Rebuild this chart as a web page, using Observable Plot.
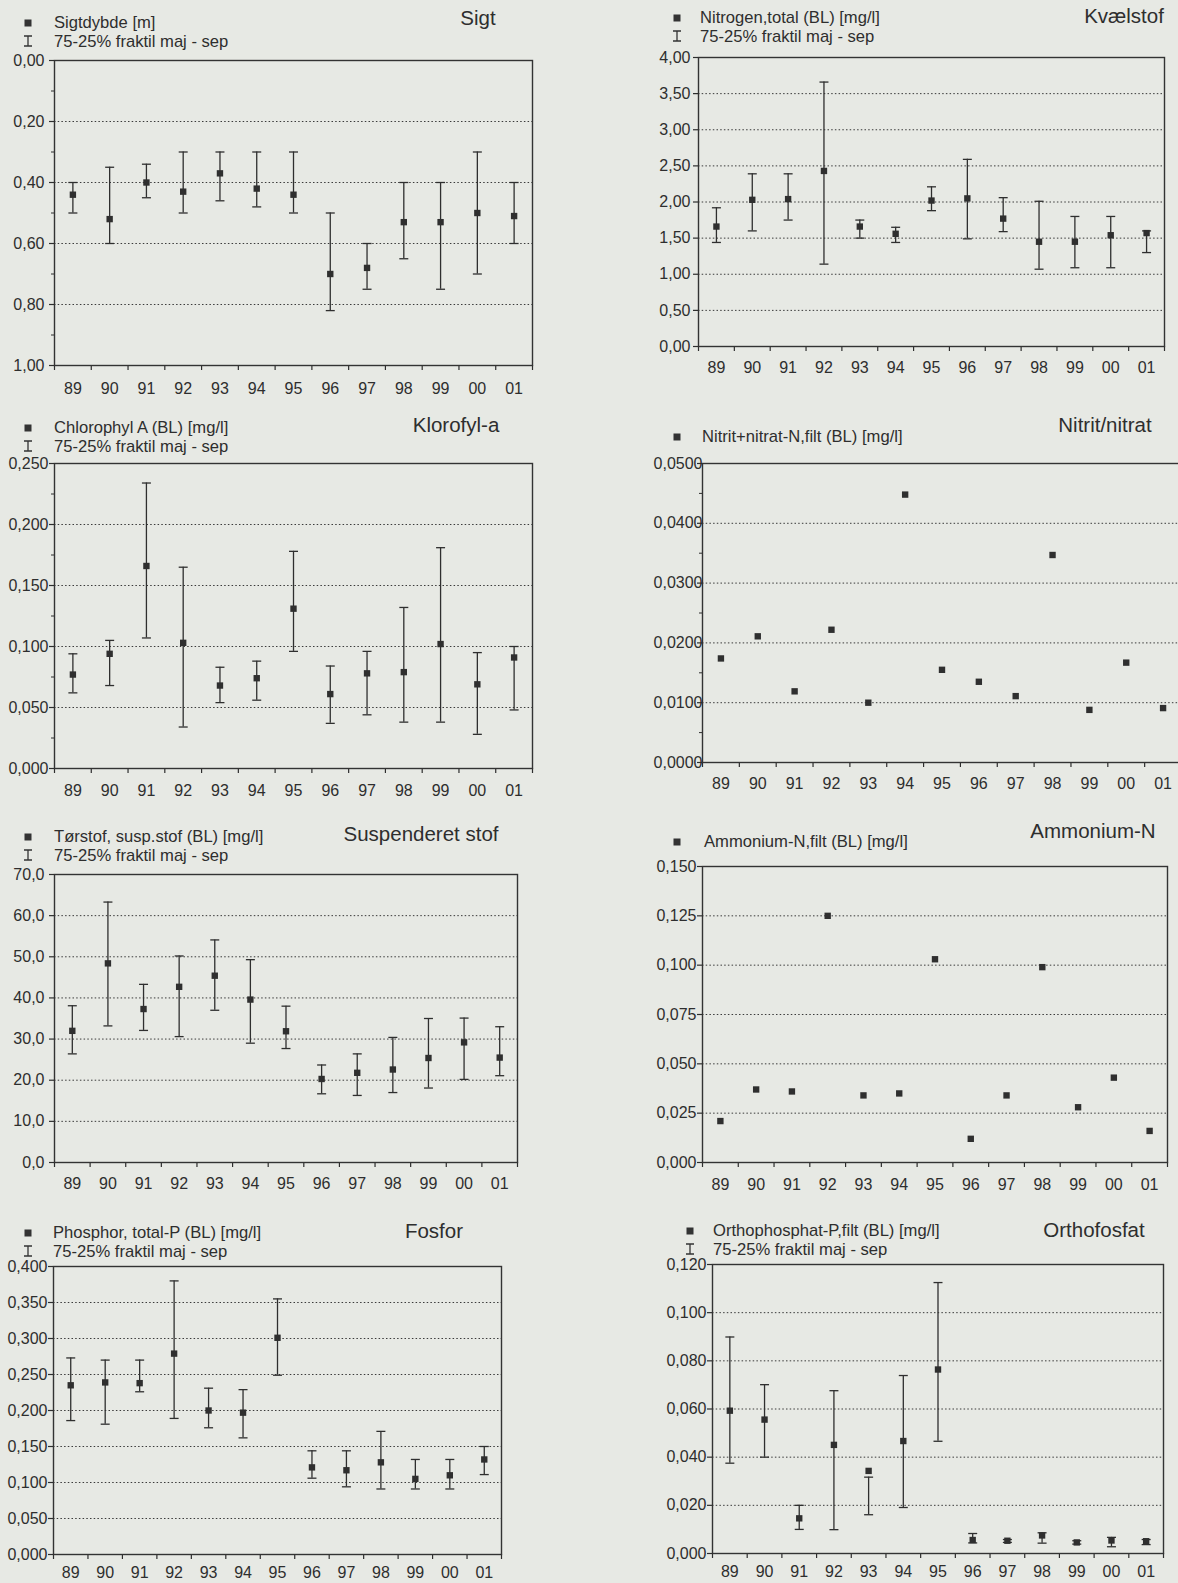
<!DOCTYPE html>
<html><head><meta charset="utf-8">
<script src="https://cdn.jsdelivr.net/npm/d3@7"></script>
<script src="https://cdn.jsdelivr.net/npm/@observablehq/plot@0.6"></script>
<style>
html,body{margin:0;padding:0;background:#e7e9e4;overflow:hidden;}
#page{position:relative;width:1178px;height:1583px;overflow:hidden;font-family:"Liberation Sans",Arial,sans-serif;color:#2e2e2e;}
.abs{position:absolute;white-space:nowrap;line-height:1;}
.title{font-size:20.5px;transform:translate(-50%,-50%);}
.leg{font-size:16.6px;transform:translateY(-50%);}
.sq{position:absolute;width:7px;height:7px;background:#333;transform:translate(-50%,-50%);}
.eb{position:absolute;transform:translate(-50%,-50%);}
</style></head><body><div id="page"></div>
<script>
// ---------- data ----------
const years = ["89","90","91","92","93","94","95","96","97","98","99","00","01"];

const sigtMean = [0.44,0.52,0.40,0.43,0.37,0.42,0.44,0.70,0.68,0.53,0.53,0.50,0.51];
const sigtLo   = [0.40,0.35,0.34,0.30,0.30,0.30,0.30,0.50,0.60,0.40,0.40,0.30,0.40];
const sigtHi   = [0.50,0.60,0.45,0.50,0.46,0.48,0.50,0.82,0.75,0.65,0.75,0.70,0.60];
const sigtTicks = [0,0.2,0.4,0.6,0.8,1.0];
const sigtMinor = [0.1,0.3,0.5,0.7,0.9];

const nMean = [1.66,2.03,2.04,2.43,1.66,1.56,2.02,2.05,1.77,1.45,1.45,1.54,1.57];
const nLo   = [1.44,1.60,1.75,1.14,1.50,1.44,1.88,1.49,1.59,1.07,1.09,1.09,1.30];
const nHi   = [1.92,2.39,2.39,3.66,1.75,1.65,2.21,2.59,2.06,2.01,1.80,1.80,1.60];
const nTicks = [0,0.5,1,1.5,2,2.5,3,3.5,4];

const chlMean = [0.077,0.094,0.166,0.103,0.068,0.074,0.131,0.061,0.078,0.079,0.102,0.069,0.091];
const chlLo   = [0.062,0.068,0.107,0.034,0.054,0.056,0.096,0.037,0.044,0.038,0.038,0.028,0.048];
const chlHi   = [0.094,0.105,0.234,0.165,0.083,0.088,0.178,0.084,0.096,0.132,0.181,0.095,0.100];
const chlTicks = [0,0.05,0.1,0.15,0.2,0.25];
const chlMinor = [0.025,0.075,0.125,0.175,0.225];

const no3Mean = [0.0174,0.0211,0.0119,0.0222,0.0100,0.0448,0.0155,0.0135,0.0111,0.0347,0.0088,0.0167,0.0091];
const no3Ticks = [0,0.01,0.02,0.03,0.04,0.05];
const no3Minor = [0.005,0.015,0.025,0.035,0.045];

const ssMean = [32.0,48.4,37.3,42.7,45.4,39.6,31.9,20.3,21.8,22.6,25.4,29.2,25.5];
const ssLo   = [26.4,33.2,32.1,30.6,37.0,29.0,27.7,16.7,16.3,17.0,18.1,20.2,21.1];
const ssHi   = [38.1,63.3,43.3,50.2,54.1,49.3,38.0,23.7,26.4,30.4,35.0,35.1,33.0];
const ssTicks = [0,10,20,30,40,50,60,70];

const nh4Mean = [0.021,0.037,0.036,0.125,0.034,0.035,0.103,0.012,0.034,0.099,0.028,0.043,0.016];
const nh4Ticks = [0,0.025,0.05,0.075,0.1,0.125,0.15];

const pMean = [0.235,0.239,0.238,0.279,0.200,0.197,0.301,0.121,0.117,0.128,0.105,0.110,0.132];
const pLo   = [0.186,0.181,0.226,0.189,0.176,0.162,0.249,0.106,0.094,0.091,0.091,0.091,0.111];
const pHi   = [0.273,0.270,0.270,0.380,0.231,0.229,0.355,0.144,0.144,0.171,0.132,0.132,0.150];
const pTicks = [0,0.05,0.1,0.15,0.2,0.25,0.3,0.35,0.4];

const po4Mean = [0.0593,0.0556,0.0146,0.0451,0.0343,0.0467,0.0764,0.0056,0.0053,0.0075,0.0046,0.0054,0.0051];
const po4Lo   = [0.0375,0.0400,0.0100,0.0099,0.0161,0.0191,0.0466,0.0044,0.0046,0.0043,0.0039,0.0028,0.0037];
const po4Hi   = [0.0899,0.0701,0.0200,0.0676,0.0317,0.0739,0.1125,0.0083,0.0058,0.0086,0.0053,0.0067,0.0058];
const po4Ticks = [0,0.02,0.04,0.06,0.08,0.1,0.12];

const fraktil = "75-25% fraktil maj - sep";

// ---------- layout ----------
const panels = [
  {title:"Sigt", tx:478, ty:18, leg:["Sigtdybde [m]", fraktil], lx:28, ltx:54, ly:23,
   L:54,R:532,T:60,B:365, mean:sigtMean, lo:sigtLo, hi:sigtHi, ticks:sigtTicks, minor:sigtMinor, dec:2, pad:5, xpad:17, reverse:true},
  {title:"Kvælstof", tx:1124, ty:16, leg:["Nitrogen,total (BL) [mg/l]", fraktil], lx:677, ltx:700, ly:18,
   L:698,R:1164,T:57,B:346, mean:nMean, lo:nLo, hi:nHi, ticks:nTicks, dec:2, pad:3, xpad:15},
  {title:"Klorofyl-a", tx:456, ty:425, leg:["Chlorophyl A (BL) [mg/l]", fraktil], lx:28, ltx:54, ly:428,
   L:54,R:532,T:463,B:768, mean:chlMean, lo:chlLo, hi:chlHi, ticks:chlTicks, minor:chlMinor, dec:3, pad:1, xpad:16},
  {title:"Nitrit/nitrat", tx:1105, ty:425, leg:["Nitrit+nitrat-N,filt (BL) [mg/l]"], lx:677, ltx:702, ly:437,
   L:702,R:1181,T:463,B:762, mean:no3Mean, ticks:no3Ticks, minor:no3Minor, dec:4, pad:-5, xpad:15},
  {title:"Suspenderet stof", tx:421, ty:834, leg:["Tørstof, susp.stof (BL) [mg/l]", fraktil], lx:28, ltx:54, ly:837,
   L:54,R:517,T:874,B:1162, mean:ssMean, lo:ssLo, hi:ssHi, ticks:ssTicks, dec:1, pad:5, xpad:15},
  {title:"Ammonium-N", tx:1093, ty:831, leg:["Ammonium-N,filt (BL) [mg/l]"], lx:677, ltx:704, ly:842,
   L:702,R:1167,T:866,B:1162, mean:nh4Mean, ticks:nh4Ticks, dec:3, pad:1, xpad:16},
  {title:"Fosfor", tx:434, ty:1231, leg:["Phosphor, total-P (BL) [mg/l]", fraktil], lx:28, ltx:53, ly:1233,
   L:53,R:501,T:1266,B:1554, mean:pMean, lo:pLo, hi:pHi, ticks:pTicks, dec:3, pad:1, xpad:12},
  {title:"Orthofosfat", tx:1094, ty:1230, leg:["Orthophosphat-P,filt (BL) [mg/l]", fraktil], lx:690, ltx:713, ly:1231,
   L:712,R:1163,T:1264,B:1553, mean:po4Mean, lo:po4Lo, hi:po4Hi, ticks:po4Ticks, dec:3, pad:1, xpad:12}
];

const page = document.getElementById("page");
const INK = "#2f2f2f";
const capSymbol = {draw(ctx, size){ const w = Math.sqrt(size/Math.PI); ctx.moveTo(-w,0); ctx.lineTo(w,0); }};
const ebIcon = '<svg width="10" height="12" viewBox="0 0 10 12"><path d="M1 1H9M5 1V11M1 11H9" stroke="#333" stroke-width="1.3" fill="none"/></svg>';

function addDiv(cls, x, y, html) {
  const d = document.createElement("div");
  d.className = "abs " + cls;
  d.style.left = x + "px"; d.style.top = y + "px";
  d.innerHTML = html;
  page.appendChild(d);
  return d;
}

for (const p of panels) {
  // title & legend
  addDiv("title", p.tx, p.ty, p.title);
  p.leg.forEach((t, k) => {
    const y = p.ly + k * 18.5;
    if (k === 0) { const s = document.createElement("div"); s.className = "sq"; s.style.left = p.lx + "px"; s.style.top = y + "px"; page.appendChild(s); }
    else { const e = document.createElement("div"); e.className = "eb"; e.style.left = p.lx + "px"; e.style.top = y + "px"; e.innerHTML = ebIcon; page.appendChild(e); }
    addDiv("leg", p.ltx, y, t);
  });

  const ml = 80, mr = 6, mt = 12, mb = 34;
  const w = p.R - p.L + ml + mr, h = p.B - p.T + mt + mb;
  const rows = years.map((y, i) => ({i, year: y, mean: p.mean[i], lo: p.lo ? p.lo[i] : null, hi: p.hi ? p.hi[i] : null}));
  const idx = years.map((_, i) => i);
  const bounds = years.map((_, i) => i - 0.5).concat([years.length - 0.5]);
  const fmt = d => d.toFixed(p.dec).replace(".", ",");
  const grid = p.ticks.slice(1, -1);
  const marks = [
    Plot.ruleY(grid, {stroke: "#3a3a3a", strokeWidth: 1, strokeDasharray: "1.5,2.2"}),
    Plot.axisY({ticks: p.ticks, tickFormat: fmt, tickSize: 5, tickPadding: p.pad, fontSize: 16, label: null, strokeWidth: 1.2})
  ];
  if (p.minor) marks.push(Plot.axisY({ticks: p.minor, tickSize: 3, fill: "none", label: null, strokeWidth: 1}));
  marks.push(
    Plot.axisX({ticks: bounds, tickSize: 5, fill: "none", label: null, strokeWidth: 1.2}),
    Plot.axisX({ticks: idx, tickSize: 0, tickPadding: p.xpad, tickFormat: i => years[i], fontSize: 16, label: null}),
    Plot.frame({stroke: "#333", strokeWidth: 1.4})
  );
  if (p.lo) {
    marks.push(
      Plot.ruleX(rows, {x: "i", y1: "lo", y2: "hi", stroke: INK, strokeWidth: 1.3}),
      Plot.dot(rows, {x: "i", y: "lo", symbol: capSymbol, r: 4.5, stroke: INK, strokeWidth: 1.3, fill: "none"}),
      Plot.dot(rows, {x: "i", y: "hi", symbol: capSymbol, r: 4.5, stroke: INK, strokeWidth: 1.3, fill: "none"})
    );
  }
  marks.push(Plot.dot(rows, {x: "i", y: "mean", symbol: "square", r: 3.6, fill: INK, stroke: "none"}));

  const chart = Plot.plot({
    width: w, height: h, marginLeft: ml, marginRight: mr, marginTop: mt, marginBottom: mb,
    x: {type: "linear", domain: [-0.5, years.length - 0.5]},
    y: {type: "linear", domain: [p.ticks[0], p.ticks[p.ticks.length - 1]], reverse: !!p.reverse},
    style: {background: "transparent", fontFamily: "'Liberation Sans', Arial, sans-serif", fontSize: "16px", color: "#2e2e2e", overflow: "visible"},
    marks
  });
  chart.style.position = "absolute";
  chart.style.left = (p.L - ml) + "px";
  chart.style.top = (p.T - mt) + "px";
  page.appendChild(chart);
}
</script></body></html>
